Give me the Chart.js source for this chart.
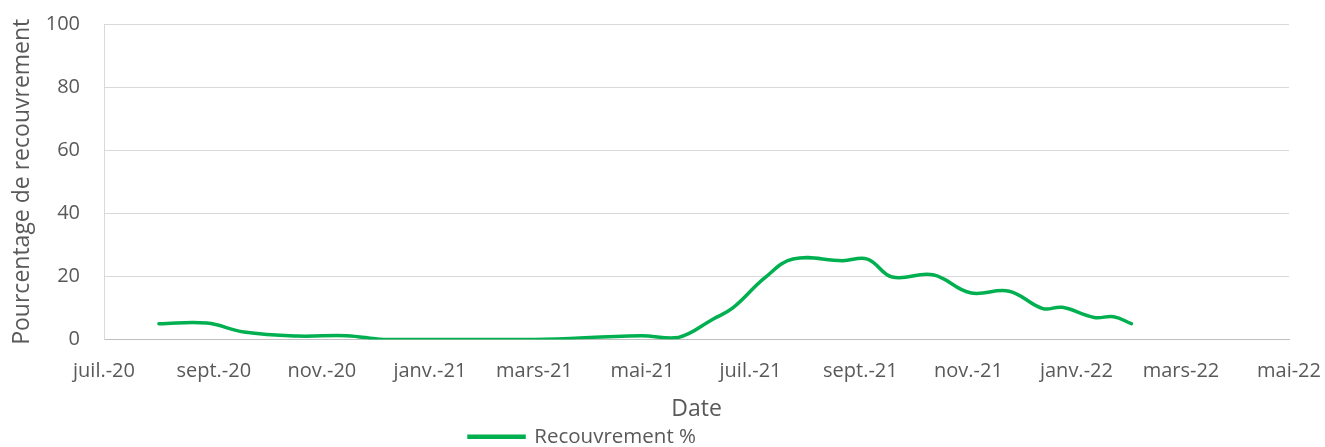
<!DOCTYPE html>
<html>
<head>
<meta charset="utf-8">
<script src="https://cdn.jsdelivr.net/npm/chart.js@4.4.1/dist/chart.umd.min.js"></script>
<style>
    html, body { margin: 0; padding: 0; background: #fff; overflow: hidden; }
    #wrap { position: relative; width: 1325px; height: 457px; }
</style>
</head>
<body>
<div id="wrap"><canvas id="chartRecouvrement"></canvas></div>
<script>
const startDate = '2020-07-01'
const endDate = '2022-05-01'

// dates des relevés et pourcentage de recouvrement
const dates = [
    '2020-08-01', '2020-08-28', '2020-09-18', '2020-10-18', '2020-11-15',
    '2020-12-06', '2021-01-17', '2021-03-01', '2021-04-30', '2021-05-21',
    '2021-06-10', '2021-06-21', '2021-07-09', '2021-07-25', '2021-08-22',
    '2021-09-05', '2021-09-19', '2021-10-12', '2021-11-02', '2021-11-24',
    '2021-12-13', '2021-12-24', '2022-01-11', '2022-01-22', '2022-02-01'
]
const recouvrement = [
    5, 5.2, 2.4, 1.1, 1.2,
    0, 0, 0, 1.2, 0.6,
    6.5, 10, 19.5, 25.5, 25,
    25.5, 19.8, 20.5, 14.8, 15.3,
    9.8, 10.2, 7, 7.2, 5
]

const tickDates = [
    '2020-07-01', '2020-09-01', '2020-11-01', '2021-01-01', '2021-03-01', '2021-05-01',
    '2021-07-01', '2021-09-01', '2021-11-01', '2022-01-01', '2022-03-01', '2022-05-01'
]
const tickLabels = [
    'juil.-20', 'sept.-20', 'nov.-20', 'janv.-21', 'mars-21', 'mai-21',
    'juil.-21', 'sept.-21', 'nov.-21', 'janv.-22', 'mars-22', 'mai-22'
]

const dayOf = d => (Date.parse(d) - Date.parse(startDate)) / 86400000
const tickDays = tickDates.map(dayOf)

Chart.defaults.font.family = "'Open Sans', sans-serif"
Chart.defaults.color = '#595959'

// la légende d'Excel est décalée vers la gauche
const decalerLegende = {
    id: 'decalerLegende',
    afterLayout(chart) {
        chart.legend.left -= 62
        chart.legend.right -= 62
    }
}

new Chart(document.getElementById('chartRecouvrement'), {
    type: 'line',
    data: {
        datasets: [{
            label: 'Recouvrement %',
            data: dates.map((d, i) => ({ x: dayOf(d), y: recouvrement[i] })),
            borderColor: '#00b050',
            backgroundColor: '#00b050',
            borderWidth: 3.5,
            pointRadius: 0,
            tension: 0.4,
            borderCapStyle: 'round'
        }]
    },
    options: {
        responsive: true,
        maintainAspectRatio: false,
        animation: false,
        layout: {
            padding: { top: 24, right: 36, left: 0, bottom: 0 }
        },
        scales: {
            x: {
                type: 'linear',
                min: 0,
                max: dayOf(endDate),
                afterBuildTicks: scale => {
                    scale.ticks = tickDays.map(v => ({ value: v }))
                },
                afterFit: scale => {
                    scale.height = 84
                    scale.paddingLeft = 0
                    scale.paddingRight = 0
                },
                ticks: {
                    autoSkip: false,
                    maxRotation: 0,
                    padding: 12,
                    font: { size: 20 },
                    callback: v => tickLabels[tickDays.indexOf(v)]
                },
                grid: { display: false },
                border: { display: true, color: '#bfbfbf', width: 1 },
                title: {
                    display: true,
                    text: 'Date',
                    font: { size: 23 },
                    padding: { top: 0, bottom: 0 }
                }
            },
            y: {
                min: 0,
                max: 100,
                afterFit: scale => {
                    scale.width = 104
                    scale.paddingTop = 0
                    scale.paddingBottom = 0
                },
                ticks: {
                    stepSize: 20,
                    padding: 24,
                    font: { size: 20 }
                },
                grid: { color: '#d9d9d9', drawTicks: false },
                border: { display: true, color: '#d9d9d9' },
                title: {
                    display: true,
                    text: 'Pourcentage de recouvrement',
                    font: { size: 23 },
                    padding: { top: 9, bottom: 0 }
                }
            }
        },
        plugins: {
            legend: {
                position: 'bottom',
                labels: {
                    boxWidth: 55,
                    boxHeight: 1,
                    padding: 3,
                    font: { size: 20.5 }
                }
            },
            tooltip: { enabled: false }
        }
    },
    plugins: [decalerLegende]
});
</script>
</body>
</html>
